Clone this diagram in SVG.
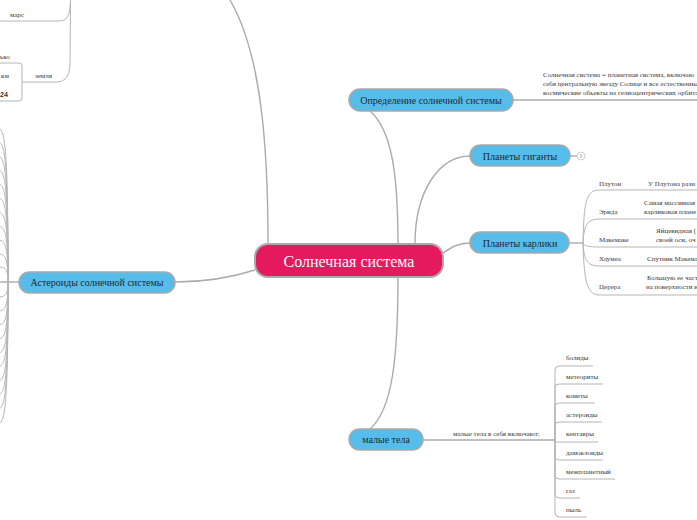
<svg xmlns="http://www.w3.org/2000/svg" width="697" height="520" viewBox="0 0 697 520">
<style>
.c{fill:none;stroke:#ababab;stroke-width:1.4}
.cl{fill:none;stroke:#b5b5b5;stroke-width:1}
.blue{fill:#56bdea;stroke:#a9a9a9;stroke-width:1.5}
.t{font-family:"Liberation Serif","Times New Roman",serif;fill:#1e2a33}
.s{font-family:"Liberation Serif","Times New Roman",serif;font-size:7px;fill:#3a3a3a}
</style>
<rect width="697" height="520" fill="#fff"/>
<g id="connectors">
<path class="c" d="M268,244 C268,150 262,55 230,0"/>
<path class="c" d="M398,244 C398,175 392,130 370,111"/>
<path class="c" d="M415,244 C415,190 440,156 470,156"/>
<path class="c" d="M443,253 C452,247 458,243 470,243"/>
<path class="c" d="M398,277 C398,360 392,410 370,429"/>
<path class="c" d="M255,270 C230,278 205,282 175,282"/>
<path class="c" d="M513,100 L697,100"/>
<path class="c" d="M570,156 L577,156"/>
<path class="c" d="M569,243 L583,243"/>
<path class="cl" d="M583,243 C584,200 586,190 600,190 L697,190"/>
<path class="cl" d="M583,243 C584,226 586,219 600,219 L697,219"/>
<path class="cl" d="M583,243 C584,246 588,247 600,247 L697,247"/>
<path class="cl" d="M583,243 C584,262 588,266 600,266 L697,266"/>
<path class="cl" d="M583,243 C584,285 588,295 600,295 L697,295"/>
<path class="c" d="M423,440 L555,440"/>
<path class="cl" d="M555,440 L555,370 Q555,366 559,366 L593,366"/>
<path class="cl" d="M555,440 L555,388 Q555,384 559,384 L603,384"/>
<path class="cl" d="M555,440 L555,407 Q555,403 559,403 L595,403"/>
<path class="cl" d="M555,440 L555,426 Q555,422 559,422 L602,422"/>
<path class="cl" d="M555,440 L555,442 Q555,442 559,442 L598,442"/>
<path class="cl" d="M555,440 L555,456 Q555,460 559,460 L603,460"/>
<path class="cl" d="M555,440 L555,475 Q555,479 559,479 L615,479"/>
<path class="cl" d="M555,440 L555,494 Q555,498 559,498 L580,498"/>
<path class="cl" d="M555,440 L555,513 Q555,517 559,517 L587,517"/>
<path class="c" d="M0,282 L19,282"/>
<path class="cl" d="M8,282 C8,128 4,128 -4,128"/>
<path class="cl" d="M8,282 C8,142 4,142 -4,142"/>
<path class="cl" d="M8,282 C8,156 4,156 -4,156"/>
<path class="cl" d="M8,282 C8,170 4,170 -4,170"/>
<path class="cl" d="M8,282 C8,184 4,184 -4,184"/>
<path class="cl" d="M8,282 C8,198 4,198 -4,198"/>
<path class="cl" d="M8,282 C8,212 4,212 -4,212"/>
<path class="cl" d="M8,282 C8,226 4,226 -4,226"/>
<path class="cl" d="M8,282 C8,240 4,240 -4,240"/>
<path class="cl" d="M8,282 C8,254 4,254 -4,254"/>
<path class="cl" d="M8,282 C8,267 4,267 -4,267"/>
<path class="cl" d="M8,282 C8,297 4,297 -4,297"/>
<path class="cl" d="M8,282 C8,311 4,311 -4,311"/>
<path class="cl" d="M8,282 C8,325 4,325 -4,325"/>
<path class="cl" d="M8,282 C8,339 4,339 -4,339"/>
<path class="cl" d="M8,282 C8,353 4,353 -4,353"/>
<path class="cl" d="M8,282 C8,367 4,367 -4,367"/>
<path class="cl" d="M8,282 C8,381 4,381 -4,381"/>
<path class="cl" d="M8,282 C8,395 4,395 -4,395"/>
<path class="cl" d="M8,282 C8,409 4,409 -4,409"/>
<path class="cl" d="M8,282 C8,424 4,424 -4,424"/>
<path class="cl" d="M0,21 L60,21 Q69,21 70,8 L70.5,0"/>
<path class="cl" d="M22,82 L57,82 Q69,82 70,66 L70.5,0"/>
</g>
<g id="root">
<rect x="255" y="244" width="188" height="33" rx="13" fill="#e5195e" stroke="#a9a9a9" stroke-width="2"/>
<text x="349" y="267" text-anchor="middle" class="t" style="font-size:16px;fill:#fff">Солнечная система</text>
</g>
<g id="definition">
<rect class="blue" x="349" y="89" width="164" height="22" rx="11"/>
<text x="431" y="104" text-anchor="middle" class="t" style="font-size:10px">Определение солнечной системы</text>
</g>
<g id="definition-text">
<text class="s" x="543" y="77">Солнечная система = планетная система, включаю</text>
<text class="s" x="543" y="86">себя центральную звезду Солнце и все естественны</text>
<text class="s" x="543" y="95">космические объекты на гелиоцентрических орбита</text>
</g>
<g id="giants">
<rect class="blue" x="470" y="145" width="100" height="21" rx="10.5"/>
<text x="520" y="159.5" text-anchor="middle" class="t" style="font-size:10px">Планеты гиганты</text>
<circle cx="581" cy="156" r="4" fill="#fff" stroke="#cfcfcf" stroke-width="1"/>
<text x="581" y="158" text-anchor="middle" style="font-family:'Liberation Sans',sans-serif;font-size:5px;fill:#aaa">8</text>
</g>
<g id="dwarfs">
<rect class="blue" x="470" y="232" width="99" height="21" rx="10.5"/>
<text x="520" y="246.5" text-anchor="middle" class="t" style="font-size:10px">Планеты карлики</text>
</g>
<g id="dwarf-items">
<text class="s" x="599" y="186">Плутон</text>
<text class="s" x="648" y="186">У Плутона разн</text>
<text class="s" x="599" y="214">Эрида</text>
<text class="s" x="644" y="205">Самая массивная</text>
<text class="s" x="644" y="214">карликовая плане</text>
<text class="s" x="656" y="233">Яйцевидная (</text>
<text class="s" x="599" y="242">Макемаке</text>
<text class="s" x="656" y="242">своей оси, оч</text>
<text class="s" x="599" y="261">Хаумеа</text>
<text class="s" x="647" y="261">Спутник Макема</text>
<text class="s" x="599" y="289">Церера</text>
<text class="s" x="647" y="280">Большую ее част</text>
<text class="s" x="646" y="289">на поверхности и</text>
</g>
<g id="asteroids">
<rect class="blue" x="19" y="272" width="156" height="21" rx="10.5"/>
<text x="97" y="285.5" text-anchor="middle" class="t" style="font-size:10px">Астероиды солнечной системы</text>
</g>
<g id="small-bodies">
<rect class="blue" x="349" y="429" width="74" height="21" rx="10.5"/>
<text x="386" y="443" text-anchor="middle" class="t" style="font-size:10px">малые тела</text>
</g>
<g id="small-bodies-items">
<text class="s" x="453" y="436">малые тела в себя включают:</text>
<text class="s" x="566" y="360">болиды</text>
<text class="s" x="566" y="379">метеориты</text>
<text class="s" x="566" y="398">кометы</text>
<text class="s" x="566" y="417">астероиды</text>
<text class="s" x="566" y="436">кентавры</text>
<text class="s" x="566" y="455">дамоклоиды</text>
<text class="s" x="566" y="474">межпланетный</text>
<text class="s" x="566" y="493">газ</text>
<text class="s" x="566" y="512">пыль</text>
</g>
<g id="planets-items">
<text class="s" x="10" y="17">марс</text>
<text class="s" x="35" y="78">земля</text>
<rect x="-12" y="63" width="34" height="38" rx="3" fill="none" stroke="#b5b5b5" stroke-width="1"/>
<text class="s" x="0" y="59">ько</text>
<text class="s" x="1" y="78">км</text>
<text x="0" y="97" style="font-family:'Liberation Sans',sans-serif;font-size:7px;font-weight:bold;fill:#333">24</text>
</g>
</svg>
